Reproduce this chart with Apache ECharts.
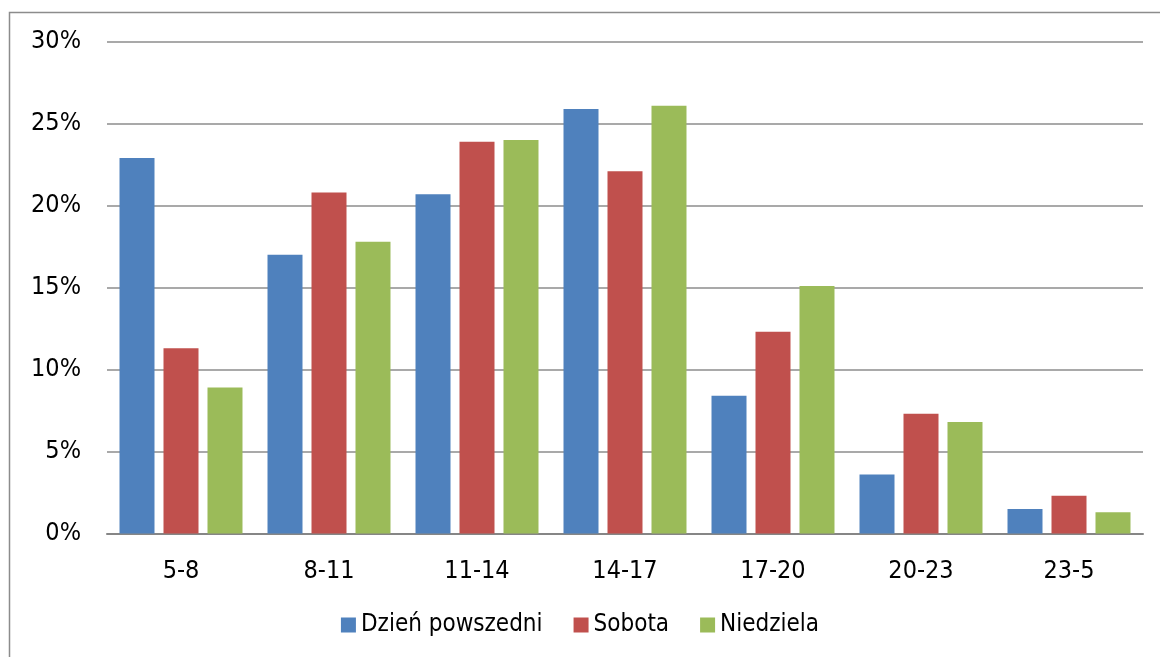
<!DOCTYPE html>
<html>
<head>
<meta charset="utf-8">
<script src="https://cdn.jsdelivr.net/npm/echarts@6/dist/echarts.min.js"></script>
<style>html,body{margin:0;padding:0;background:#fff;}#c{width:1160px;height:657px;}</style>
</head>
<body>
<div id="c"></div>
<script>
const categories = ['5-8', '8-11', '11-14', '14-17', '17-20', '20-23', '23-5'];
const seriesNames = ['Dzień powszedni', 'Sobota', 'Niedziela'];
const weekday = [22.9, 17.0, 20.7, 25.9, 8.4, 3.6, 1.5];
const saturday = [11.3, 20.8, 23.9, 22.1, 12.3, 7.3, 2.3];
const sunday = [8.9, 17.8, 24.0, 26.1, 15.1, 6.8, 1.3];
const colors = ['#4F81BD', '#C0504D', '#9BBB59'];
const FONT = '"DejaVu Sans Condensed", "DejaVu Sans", sans-serif';

const chart = echarts.init(document.getElementById('c'), null, {renderer: 'canvas'});
const mk = (name, data, i) => ({
  name, type: 'bar', data, barWidth: 35, barGap: '25.7%',
  itemStyle: {color: colors[i]}
});
chart.setOption({
  animation: false,
  textStyle: {fontFamily: FONT},
  graphic: [{
    type: 'rect', shape: {x: 9.5, y: 12.5, width: 1300, height: 800},
    style: {fill: 'none', stroke: '#8c8c8c', lineWidth: 1.5}, silent: true
  }],
  grid: {left: 107, right: 17, top: 41.7, bottom: 123.5, containLabel: false},
  legend: {
    bottom: 15, left: 'center', itemWidth: 15, itemHeight: 15, itemGap: 31,
    icon: 'rect',
    textStyle: {fontFamily: FONT, fontSize: 24, color: '#000'},
    data: seriesNames
  },
  xAxis: {
    type: 'category', data: categories,
    axisLine: {lineStyle: {color: '#868686', width: 2}},
    axisTick: {show: false},
    axisLabel: {fontFamily: FONT, fontSize: 25, color: '#000', margin: 25}
  },
  yAxis: {
    type: 'value', min: 0, max: 30, interval: 5,
    axisLine: {show: false}, axisTick: {show: false},
    splitLine: {lineStyle: {color: '#8c8c8c', width: 1.5}},
    axisLabel: {fontFamily: FONT, fontSize: 25, color: '#000', margin: 26, formatter: v => v + '%'}
  },
  series: [mk(seriesNames[0], weekday, 0), mk(seriesNames[1], saturday, 1), mk(seriesNames[2], sunday, 2)]
});
</script>
</body>
</html>
